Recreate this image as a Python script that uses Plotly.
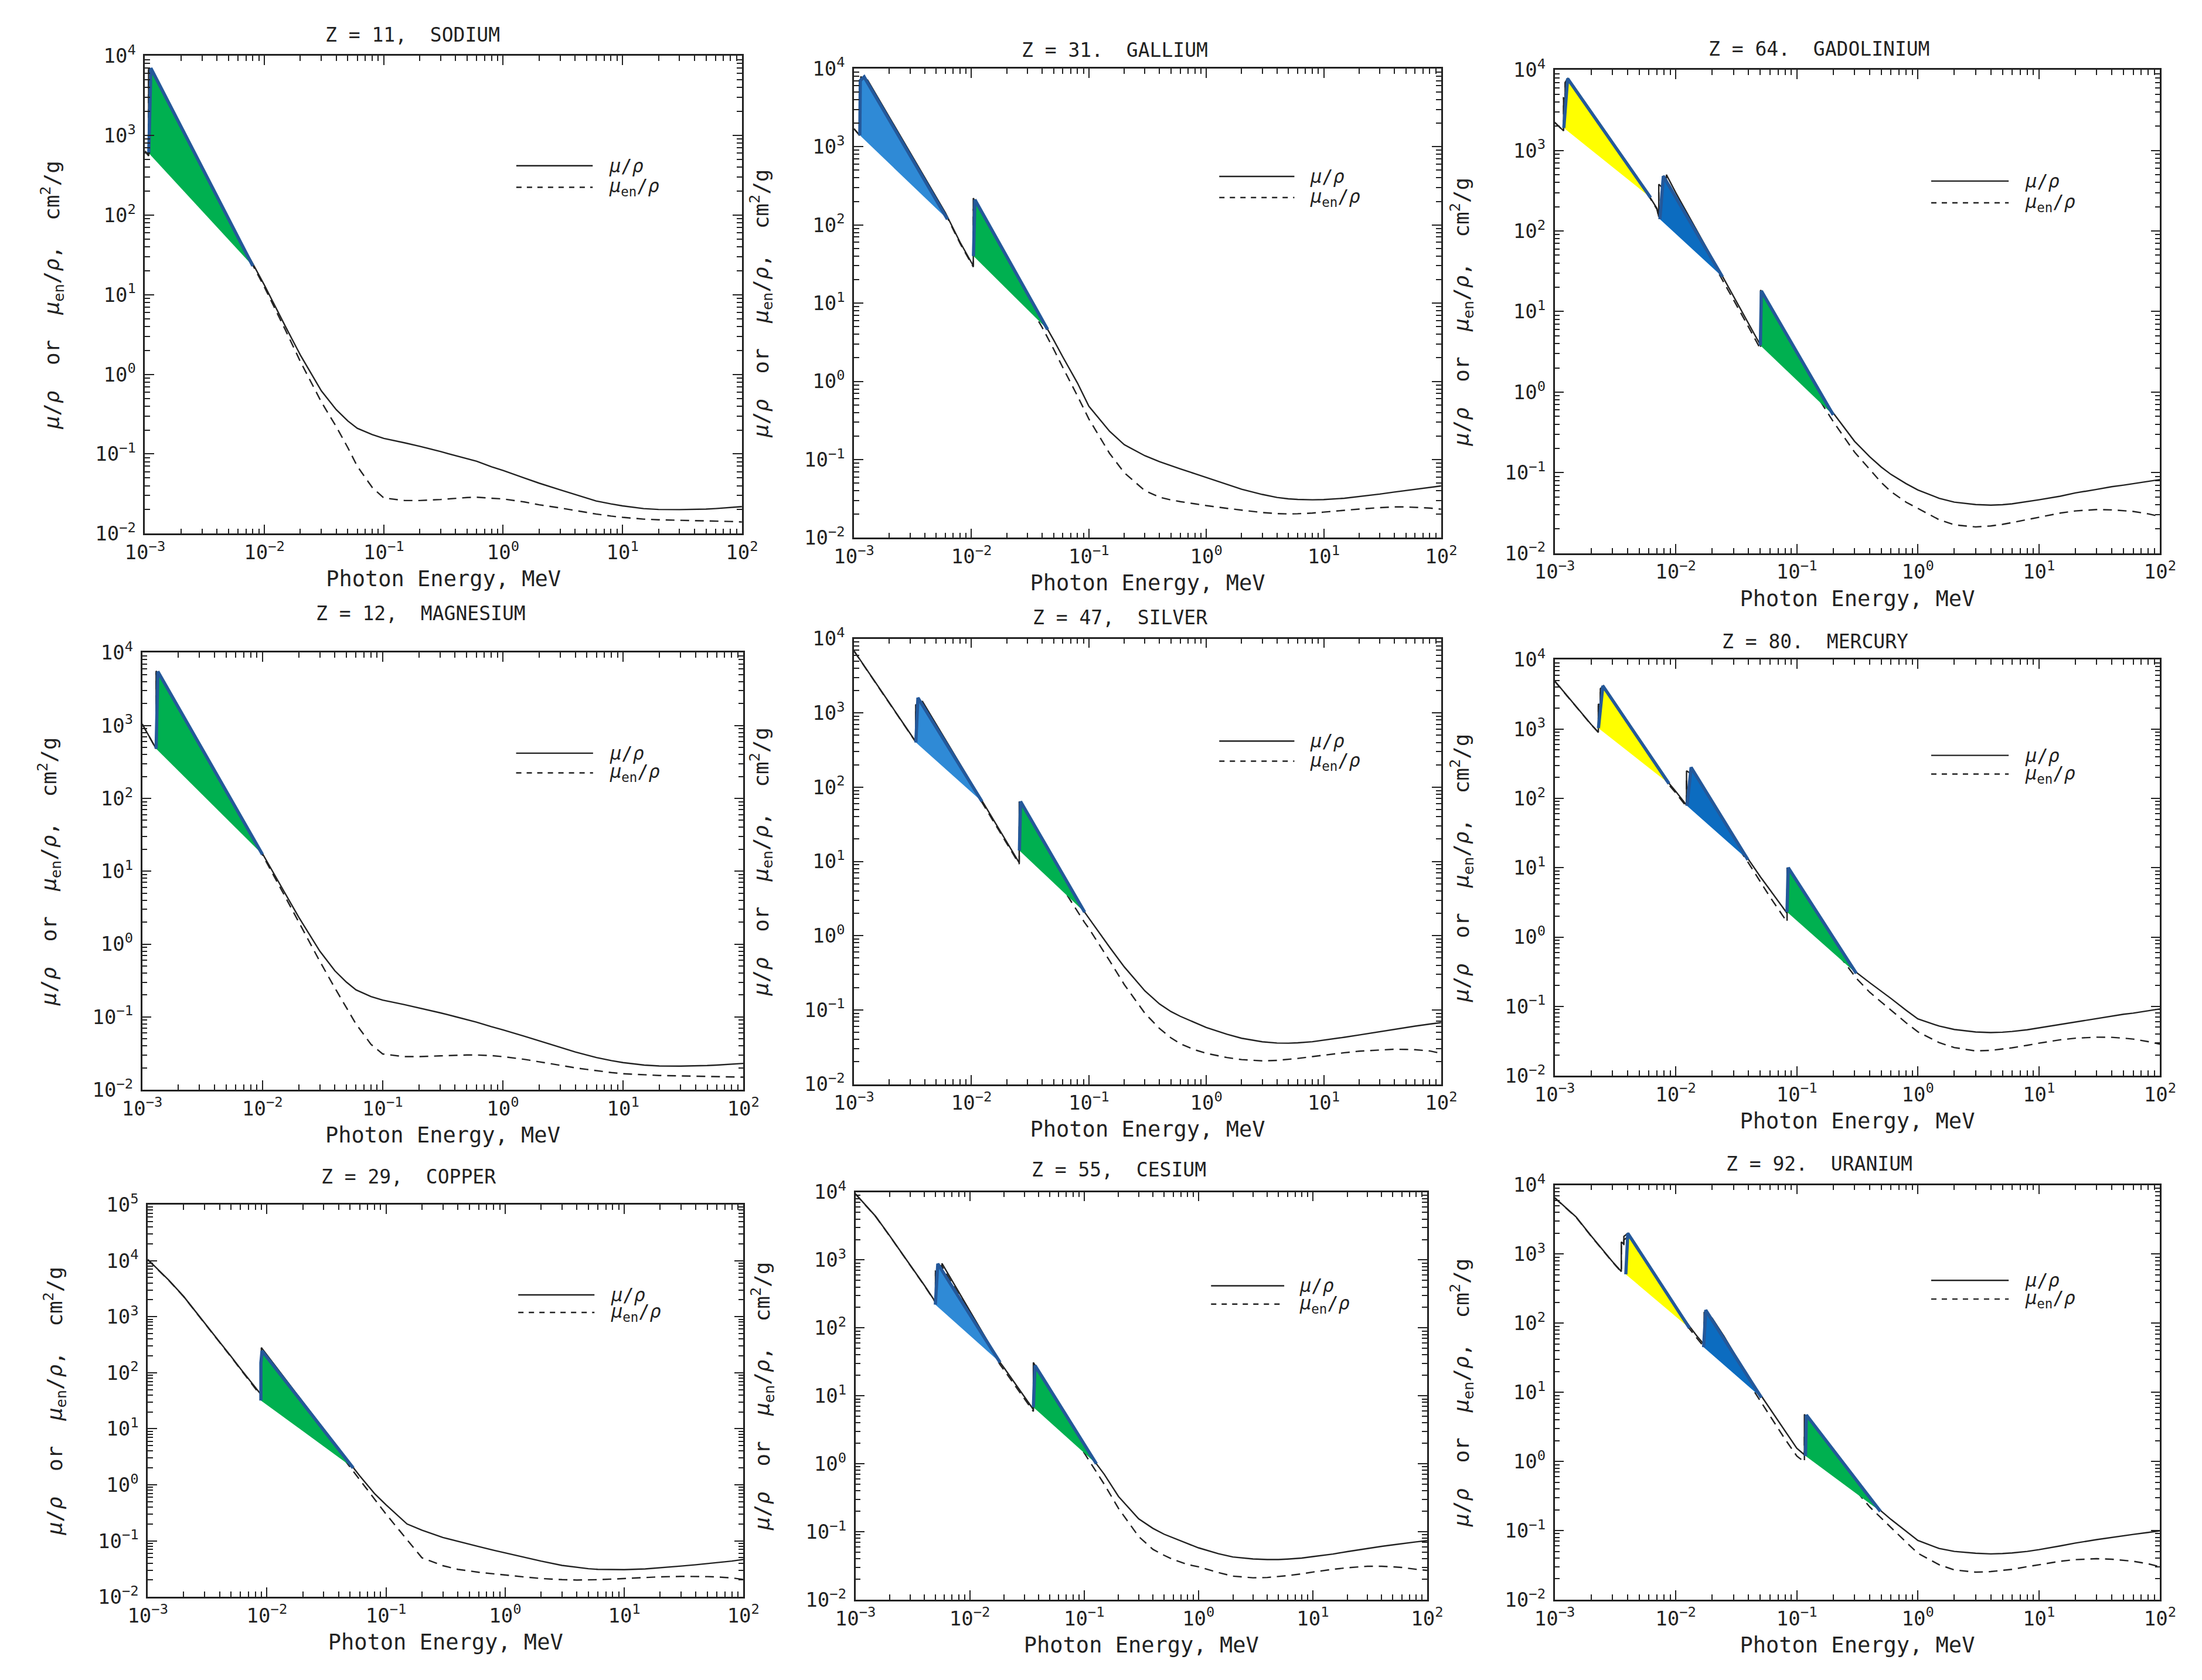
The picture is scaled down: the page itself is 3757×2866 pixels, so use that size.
import plotly.graph_objects as go

## data: photon energy (MeV), mu/rho and mu_en/rho (cm2/g)

# Z = 11, sodium
NA_E = [1.0e-3, 1.072e-3, 1.072e-3, 1.5e-3, 2e-3, 3e-3, 4e-3, 5e-3, 6e-3, 8e-3,
        1e-2, 1.5e-2, 2e-2, 3e-2, 4e-2, 5e-2, 6e-2, 8e-2,
        0.1, 0.15, 0.2, 0.3, 0.4, 0.5, 0.6, 0.8,
        1, 1.5, 2, 3, 4, 5, 6, 8,
        10, 15, 20, 30, 40, 50, 60, 80, 100]
NA_MU = [640, 560, 6900, 2660, 1180, 375, 166, 88, 53, 24.5,
         13.2, 4.0, 1.75, 0.62, 0.36, 0.26, 0.21, 0.175,
         0.157, 0.138, 0.125, 0.107, 0.095, 0.087, 0.081, 0.069,
         0.062, 0.05, 0.043, 0.0355, 0.031, 0.0278, 0.0257, 0.0236,
         0.0223, 0.0206, 0.0201, 0.02, 0.0201, 0.0203, 0.0206, 0.0212, 0.0218]
NA_MUEN = [635, 555, 6600, 2560, 1145, 366, 162, 86, 51.5, 23.5,
           12.5, 3.6, 1.45, 0.45, 0.22, 0.12, 0.07, 0.038,
           0.028, 0.026, 0.026, 0.0268, 0.0278, 0.0284, 0.0286, 0.028,
           0.0272, 0.025, 0.023, 0.021, 0.0195, 0.0184, 0.0176, 0.0166,
           0.016, 0.0152, 0.0149, 0.0147, 0.0146, 0.0145, 0.0144, 0.0142, 0.014]
NA_K_E = [1.075e-3, 1.12e-3, 8.0e-3]
NA_K_MU = [600, 7000, 23]

# Z = 12, magnesium
MG_E = [1.0e-3, 1.305e-3, 1.305e-3, 1.5e-3, 2e-3, 3e-3, 4e-3, 5e-3, 6e-3, 8e-3,
        1e-2, 1.5e-2, 2e-2, 3e-2, 4e-2, 5e-2, 6e-2, 8e-2,
        0.1, 0.15, 0.2, 0.3, 0.4, 0.5, 0.6, 0.8,
        1, 1.5, 2, 3, 4, 5, 6, 8,
        10, 15, 20, 30, 40, 50, 60, 80, 100]
MG_MU = [1050, 480, 5600, 3750, 1650, 520, 231, 123, 72.5, 32.5,
         17.5, 5.4, 2.35, 0.8, 0.43, 0.3, 0.235, 0.19,
         0.17, 0.148, 0.133, 0.114, 0.101, 0.092, 0.085, 0.0735,
         0.0665, 0.0545, 0.047, 0.0382, 0.033, 0.0299, 0.0277, 0.0251,
         0.0236, 0.0218, 0.0212, 0.0211, 0.0212, 0.0215, 0.0218, 0.0224, 0.023]
MG_MUEN = [1045, 477, 5300, 3580, 1590, 505, 226, 121, 71, 31.5,
           16.8, 4.9, 2.0, 0.58, 0.25, 0.135, 0.08, 0.042,
           0.031, 0.0285, 0.0285, 0.0292, 0.0298, 0.03, 0.03, 0.0294,
           0.0285, 0.0262, 0.0242, 0.0216, 0.02, 0.019, 0.0182, 0.0172,
           0.0166, 0.016, 0.0157, 0.0155, 0.0154, 0.0153, 0.0152, 0.015, 0.0149]
MG_K_E = [1.305e-3, 1.35e-3, 1.0e-2]
MG_K_MU = [480, 5500, 17]

# Z = 29, copper
CU_E = [1.0e-3, 1.5e-3, 2e-3, 3e-3, 4e-3, 5e-3, 6e-3, 8e-3, 8.979e-3, 8.979e-3,
        1e-2, 1.5e-2, 2e-2, 3e-2, 4e-2, 5e-2, 6e-2, 8e-2,
        0.1, 0.15, 0.2, 0.3, 0.4, 0.5, 0.6, 0.8,
        1, 1.5, 2, 3, 4, 5, 6, 8,
        10, 15, 20, 30, 40, 50, 60, 80, 100]
CU_MU = [10500, 4500, 2300, 780, 360, 195, 118, 54, 40, 280,
         207, 67, 30, 9.8, 4.4, 2.4, 1.45, 0.7,
         0.44, 0.2, 0.155, 0.115, 0.098, 0.087, 0.079, 0.068,
         0.061, 0.05, 0.0435, 0.0365, 0.0335, 0.0318, 0.031, 0.0305,
         0.0306, 0.0316, 0.033, 0.0355, 0.0375, 0.0392, 0.0408, 0.0435, 0.0465]
CU_MUEN = [10400, 4450, 2280, 770, 355, 192, 115, 52, 38, 200,
           160, 56, 26, 8.5, 3.8, 2.05, 1.25, 0.55,
           0.3, 0.105, 0.05, 0.036, 0.031, 0.029, 0.0275, 0.0258,
           0.0245, 0.0225, 0.0213, 0.0203, 0.02, 0.0201, 0.0203, 0.0208,
           0.0213, 0.0222, 0.0228, 0.0232, 0.0232, 0.023, 0.0227, 0.0218, 0.0205]
CU_K_E = [8.9e-3, 8.9e-3, 9.1e-3, 5.3e-2]
CU_K_MU = [32, 150, 245, 2.0]

# Z = 31, gallium
GA_E = [1.0e-3, 1.115e-3, 1.115e-3, 1.142e-3, 1.142e-3, 1.298e-3, 1.298e-3, 1.5e-3, 2e-3, 3e-3,
        4e-3, 5e-3, 6e-3, 8e-3, 1.0367e-2, 1.0367e-2, 1.5e-2, 2e-2, 3e-2, 4e-2,
        5e-2, 6e-2, 8e-2, 0.1, 0.15, 0.2, 0.3, 0.4, 0.5, 0.6,
        0.8, 1, 1.5, 2, 3, 4, 5, 6, 8, 10,
        15, 20, 30, 40, 50, 60, 80, 100]
GA_MU = [1700, 1400, 6900, 6700, 7900, 6500, 7200, 4970, 2380, 844,
         404, 228, 143, 60, 30, 220, 83, 38.5, 13.1, 6.1,
         3.4, 2.05, 0.95, 0.48, 0.23, 0.155, 0.112, 0.094, 0.083, 0.076,
         0.066, 0.059, 0.048, 0.0418, 0.0358, 0.0328, 0.0315, 0.0309, 0.0306, 0.0308,
         0.032, 0.0335, 0.0362, 0.0385, 0.0403, 0.0418, 0.0442, 0.046]
GA_MUEN = [1690, 1395, 6700, 6500, 7600, 6300, 6950, 4800, 2310, 820,
           393, 222, 139, 58, 29, 160, 62, 29.5, 10.2, 4.9,
           2.6, 1.5, 0.65, 0.33, 0.12, 0.068, 0.04, 0.033, 0.0305, 0.029,
           0.0272, 0.0258, 0.0238, 0.0226, 0.021, 0.0204, 0.0202, 0.0203, 0.0207, 0.0213,
           0.0225, 0.0233, 0.0243, 0.0248, 0.0248, 0.0246, 0.024, 0.0232]
GA_L_E = [1.12e-3, 1.13e-3, 1.22e-3, 6.25e-3]
GA_L_MU = [1400, 7000, 7800, 118]
GA_K_E = [1.04e-2, 1.07e-2, 4.45e-2]
GA_K_MU = [40, 210, 4.6]

# Z = 47, silver
AG_E = [1.0e-3, 2e-3, 3e-3, 3.351e-3, 3.351e-3, 3.524e-3, 3.524e-3, 3.806e-3, 3.806e-3, 5e-3,
        6e-3, 8e-3, 1e-2, 1.23e-2, 1.5e-2, 2e-2, 2.551e-2, 2.551e-2, 3e-2, 4e-2,
        5e-2, 6e-2, 8e-2, 9.2e-2, 0.1, 0.15, 0.2, 0.3, 0.4, 0.5,
        0.6, 0.8, 1, 1.5, 2, 3, 4, 5, 6, 8,
        10, 15, 20, 30, 40, 50, 60, 80, 100]
AG_MU = [6840, 1360, 530, 410, 1300, 1200, 1550, 1350, 1450, 705,
         437, 205, 113, 66, 39, 18.3, 9.6, 64, 41.5, 19.2,
         10.6, 6.45, 3.0, 2.07, 1.72, 0.7, 0.38, 0.18, 0.12, 0.095,
         0.082, 0.067, 0.058, 0.047, 0.0415, 0.0372, 0.0358, 0.0356, 0.036, 0.0373,
         0.039, 0.0428, 0.046, 0.051, 0.055, 0.058, 0.0605, 0.0645, 0.0675]
AG_MUEN = [6800, 1350, 525, 405, 1200, 1110, 1420, 1240, 1330, 655,
           407, 192, 106, 62, 37, 17.4, 9.2, 35, 24, 11.8,
           6.8, 4.3, 2.1, 1.5, 1.25, 0.46, 0.22, 0.09, 0.056, 0.042,
           0.035, 0.029, 0.026, 0.0228, 0.0214, 0.0206, 0.0209, 0.0215, 0.0222, 0.0235,
           0.0246, 0.0265, 0.0278, 0.029, 0.0295, 0.0294, 0.0291, 0.028, 0.026]
AG_L_E = [3.36e-3, 3.5e-3, 1.23e-2]
AG_L_MU = [400, 1600, 64]
AG_K_E = [2.56e-2, 2.62e-2, 9.2e-2]
AG_K_MU = [14, 64, 2.07]

# Z = 55, cesium
CS_E = [1.0e-3, 1.5e-3, 2e-3, 3e-3, 4e-3, 5.012e-3, 5.012e-3, 5.359e-3, 5.359e-3, 5.714e-3,
        5.714e-3, 8e-3, 1e-2, 1.5e-2, 1.84e-2, 2e-2, 3e-2, 3.598e-2, 3.598e-2, 5e-2,
        6e-2, 8e-2, 0.1, 0.128, 0.15, 0.2, 0.3, 0.4, 0.5, 0.6,
        0.8, 1, 1.5, 2, 3, 4, 5, 6, 8, 10,
        15, 20, 30, 40, 50, 60, 80, 100]
CS_MU = [9400, 4400, 2250, 860, 425, 240, 680, 640, 850, 800,
         890, 339, 178, 55.7, 31, 25.7, 9.7, 6.3, 31, 12.7,
         7.8, 3.6, 1.96, 1.0, 0.7, 0.33, 0.155, 0.112, 0.092, 0.081,
         0.067, 0.058, 0.0475, 0.0425, 0.0398, 0.039, 0.039, 0.0396, 0.041, 0.043,
         0.047, 0.051, 0.057, 0.061, 0.064, 0.067, 0.071, 0.074]
CS_MUEN = [9350, 4370, 2235, 853, 421, 237, 620, 585, 770, 725,
           805, 310, 163, 51.5, 28.7, 23.8, 9.0, 5.9, 16, 7.5,
           4.9, 2.5, 1.45, 0.77, 0.5, 0.22, 0.085, 0.055, 0.045, 0.039,
           0.033, 0.0305, 0.025, 0.0222, 0.021, 0.0212, 0.0218, 0.0226, 0.024, 0.0255,
           0.028, 0.0295, 0.031, 0.031, 0.0305, 0.0298, 0.028, 0.027]
CS_L_E = [5.0e-3, 5.25e-3, 1.84e-2]
CS_L_MU = [220, 880, 31]
CS_K_E = [3.6e-2, 3.72e-2, 0.128]
CS_K_MU = [6.8, 28, 1.0]

# Z = 64, gadolinium
GD_E = [1.0e-3, 1.185e-3, 1.185e-3, 1.22e-3, 1.22e-3, 1.28e-3, 1.5e-3, 2e-3, 3e-3, 4e-3,
        5e-3, 6.2e-3, 7.0e-3, 7.243e-3, 7.243e-3, 7.93e-3, 7.93e-3, 8.376e-3, 8.376e-3, 1e-2,
        1.5e-2, 2e-2, 2.43e-2, 3e-2, 4e-2, 5.024e-2, 5.024e-2, 6e-2, 8e-2, 0.1,
        0.15, 0.2, 0.3, 0.4, 0.5, 0.6, 0.8, 1, 1.5, 2,
        3, 4, 5, 6, 8, 10, 15, 20, 30, 40,
        50, 60, 80, 100]
GD_MU = [2240, 1750, 4500, 4400, 7000, 7800, 5600, 2970, 1240, 665,
         413, 255, 190, 150, 380, 335, 485, 450, 500, 300,
         99, 46, 27.5, 15.4, 7.0, 3.8, 18.5, 11.4, 5.4, 3.0,
         1.05, 0.55, 0.245, 0.158, 0.117, 0.095, 0.073, 0.061, 0.048, 0.043,
         0.0402, 0.0395, 0.04, 0.041, 0.0435, 0.046, 0.051, 0.056, 0.062, 0.067,
         0.070, 0.073, 0.078, 0.082]
GD_MUEN = [2230, 1740, 4400, 4300, 6800, 7500, 5400, 2880, 1210, 650,
           404, 250, 186, 147, 330, 295, 420, 395, 440, 268,
           90, 42, 25, 14.0, 6.4, 3.4, 10.5, 7.0, 3.6, 2.15,
           0.85, 0.43, 0.18, 0.11, 0.075, 0.058, 0.043, 0.036, 0.026, 0.0225,
           0.0212, 0.0218, 0.0228, 0.024, 0.0262, 0.028, 0.0315, 0.0335, 0.0348, 0.0345,
           0.0338, 0.033, 0.0308, 0.0285]
GD_M_E = [1.19e-3, 1.28e-3, 6.2e-3]
GD_M_MU = [1900, 7800, 260]
GD_L_E = [7.4e-3, 7.9e-3, 2.43e-2]
GD_L_MU = [140, 480, 27]
GD_K_E = [5.0e-2, 5.1e-2, 0.2]
GD_K_MU = [3.8, 18, 0.52]

# Z = 80, mercury
HG_E = [1.0e-3, 1.5e-3, 2e-3, 2.295e-3, 2.295e-3, 2.385e-3, 2.385e-3, 2.53e-3, 3e-3, 4e-3,
        5e-3, 6e-3, 8e-3, 8.8e-3, 1e-2, 1.228e-2, 1.228e-2, 1.5e-2, 2e-2, 3e-2,
        3.95e-2, 5e-2, 6e-2, 8.31e-2, 8.31e-2, 0.1, 0.15, 0.2, 0.313, 0.4,
        0.5, 0.6, 0.8, 1, 1.5, 2, 3, 4, 5, 6,
        8, 10, 15, 20, 30, 40, 50, 60, 80, 100]
HG_MU = [4940, 2125, 1166, 900, 2300, 2200, 3800, 4200, 2700, 1277,
         715, 445, 211, 165, 126, 80, 250, 200, 88, 28,
         13.5, 7.4, 4.8, 2.2, 10, 6.2, 2.1, 0.99, 0.306, 0.22,
         0.165, 0.13, 0.088, 0.066, 0.052, 0.0465, 0.0428, 0.042, 0.0425, 0.0435,
         0.046, 0.049, 0.055, 0.06, 0.067, 0.073, 0.077, 0.08, 0.086, 0.092]
HG_MUEN = [4900, 2110, 1158, 894, 2150, 2060, 3500, 3870, 2500, 1190,
           670, 418, 199, 156, 120, 76, 200, 165, 74, 24.5,
           12, 6.2, 3.8, 1.65, 5.0, 3.5, 1.35, 0.7, 0.25, 0.16,
           0.115, 0.088, 0.058, 0.043, 0.03, 0.0255, 0.0228, 0.0232, 0.0242, 0.0253,
           0.0275, 0.0295, 0.033, 0.0348, 0.036, 0.0358, 0.0348, 0.0338, 0.031, 0.0285]
HG_M_E = [2.3e-3, 2.5e-3, 8.8e-3]
HG_M_MU = [1030, 4200, 163]
HG_L_E = [1.24e-2, 1.34e-2, 3.95e-2]
HG_L_MU = [78, 280, 13]
HG_K_E = [8.3e-2, 8.5e-2, 0.31]
HG_K_MU = [2.3, 10, 0.3]

# Z = 92, uranium
U_E = [1.0e-3, 1.5e-3, 2e-3, 3e-3, 3.552e-3, 3.552e-3, 3.728e-3, 3.728e-3, 4.02e-3, 5e-3,
       6e-3, 8e-3, 1e-2, 1.3e-2, 1.5e-2, 1.717e-2, 1.717e-2, 2e-2, 2.5e-2, 3e-2,
       4e-2, 5e-2, 6e-2, 8e-2, 0.1, 0.1156, 0.1156, 0.15, 0.2, 0.3,
       0.4, 0.5, 0.6, 0.8, 1, 1.5, 2, 3, 4, 5,
       6, 8, 10, 15, 20, 30, 40, 50, 60, 80, 100]
U_MU = [6560, 3470, 1840, 780, 560, 1500, 1400, 1800, 2000, 1112,
        680, 314, 172, 90, 65, 49, 145, 118, 65, 38,
        16.8, 9.3, 5.8, 2.7, 1.55, 1.25, 4.8, 2.6, 1.35, 0.55,
        0.3, 0.19, 0.145, 0.097, 0.072, 0.055, 0.05, 0.047, 0.046, 0.0465,
        0.0475, 0.05, 0.053, 0.06, 0.066, 0.074, 0.08, 0.084, 0.088, 0.094, 0.099]
U_MUEN = [6500, 3440, 1820, 770, 553, 1350, 1260, 1600, 1780, 1000,
          615, 287, 158, 83, 60, 45, 118, 97, 54, 31.5,
          13.8, 7.5, 4.6, 2.1, 1.2, 0.98, 2.4, 1.6, 0.9, 0.4,
          0.22, 0.15, 0.11, 0.068, 0.047, 0.032, 0.027, 0.025, 0.0255, 0.0265,
          0.0275, 0.03, 0.032, 0.036, 0.038, 0.0392, 0.0385, 0.0372, 0.036, 0.033, 0.030]
U_M_E = [3.87e-3, 4.02e-3, 1.3e-2]
U_M_MU = [510, 2000, 85]
U_L_E = [1.7e-2, 1.77e-2, 5.1e-2]
U_L_MU = [45, 155, 8.4]
U_K_E = [0.118, 0.12, 0.49]
U_K_MU = [1.2, 4.7, 0.19]

# tick labels
X_TICKS = [1e-3, 1e-2, 1e-1, 1e0, 1e1, 1e2]
X_TICKTEXT = ["10<sup>\u22123</sup>", "10<sup>\u22122</sup>", "10<sup>\u22121</sup>",
              "10<sup>0</sup>", "10<sup>1</sup>", "10<sup>2</sup>"]
Y_TICKS = [1e-2, 1e-1, 1e0, 1e1, 1e2, 1e3, 1e4, 1e5]
Y_TICKTEXT = ["10<sup>\u22122</sup>", "10<sup>\u22121</sup>", "10<sup>0</sup>", "10<sup>1</sup>",
              "10<sup>2</sup>", "10<sup>3</sup>", "10<sup>4</sup>", "10<sup>5</sup>"]


## style
FONT = "DejaVu Sans Mono"
INK = "#222222"
GREEN = "#00B050"
BLUE_LIGHT = "#2F8AD6"
BLUE_DARK = "#0C6CC0"
YELLOW = "#FFFF00"
OUTLINE = "#24589A"

W, H = 3757, 2866
REF_W, REF_H = 1568, 1196   # frame positions below are measured on this scale
# the page comes out slightly shrunk and pushed right/down, undo that here
SHIFT_X, SHIFT_Y = 14.5, 10.5
SCALE_X, SCALE_Y = 0.9854, 0.9873


def fx(px):
    return (px - SHIFT_X) / SCALE_X / REF_W


def fy(py):
    return 1 - (py - SHIFT_Y) / SCALE_Y / REF_H


# (title, E, mu, muen, [(edge E, edge mu, colour)], y top decade,
#  frame L, R, T, B, title x, title y)
panels = [
    ("Z = 11,  SODIUM", NA_E, NA_MU, NA_MUEN, [(NA_K_E, NA_K_MU, GREEN)], 4,
     100, 526, 37, 378, 291, 22),
    ("Z = 31.  GALLIUM", GA_E, GA_MU, GA_MUEN,
     [(GA_L_E, GA_L_MU, BLUE_LIGHT), (GA_K_E, GA_K_MU, GREEN)], 4,
     606, 1025, 46, 381, 792, 33),
    ("Z = 64.  GADOLINIUM", GD_E, GD_MU, GD_MUEN,
     [(GD_M_E, GD_M_MU, YELLOW), (GD_L_E, GD_L_MU, BLUE_DARK), (GD_K_E, GD_K_MU, GREEN)], 4,
     1106, 1538, 47, 392, 1295, 32),
    ("Z = 12,  MAGNESIUM", MG_E, MG_MU, MG_MUEN, [(MG_K_E, MG_K_MU, GREEN)], 4,
     98, 527, 463, 775, 297, 435),
    ("Z = 47,  SILVER", AG_E, AG_MU, AG_MUEN,
     [(AG_L_E, AG_L_MU, BLUE_LIGHT), (AG_K_E, AG_K_MU, GREEN)], 4,
     606, 1025, 453, 771, 796, 438),
    ("Z = 80.  MERCURY", HG_E, HG_MU, HG_MUEN,
     [(HG_M_E, HG_M_MU, YELLOW), (HG_L_E, HG_L_MU, BLUE_DARK), (HG_K_E, HG_K_MU, GREEN)], 4,
     1106, 1538, 468, 765, 1292, 455),
    ("Z = 29,  COPPER", CU_E, CU_MU, CU_MUEN, [(CU_K_E, CU_K_MU, GREEN)], 5,
     102, 527, 857, 1137, 288, 837),
    ("Z = 55,  CESIUM", CS_E, CS_MU, CS_MUEN,
     [(CS_L_E, CS_L_MU, BLUE_LIGHT), (CS_K_E, CS_K_MU, GREEN)], 4,
     607, 1015, 848, 1139, 795, 832),
    ("Z = 92.  URANIUM", U_E, U_MU, U_MUEN,
     [(U_M_E, U_M_MU, YELLOW), (U_L_E, U_L_MU, BLUE_DARK), (U_K_E, U_K_MU, GREEN)], 4,
     1106, 1538, 843, 1139, 1295, 828),
]

# minor tick positions, 2..9 in every decade
X_MINOR = [m * 10.0 ** d for d in range(-3, 2) for m in range(2, 10)]
Y_MINOR = [m * 10.0 ** d for d in range(-2, 5) for m in range(2, 10)]

Y_TITLE = ("<i>\u03bc</i>/<i>\u03c1</i>  or  <i>\u03bc</i><sub>en</sub>/<i>\u03c1</i>,  "
           "cm<sup>2</sup>/g")

fig = go.Figure()
annotations = []
shapes = []

axis_common = dict(
    type="log",
    showline=True, linecolor=INK, linewidth=2.5, mirror="allticks",
    ticks="inside", ticklen=16, tickwidth=2, tickcolor=INK,
    showgrid=False, zeroline=False,
    tickfont=dict(family=FONT, size=34, color=INK),
)

for i, (title, e, mu, muen, edges, ytop, L, R, T, B, tx, ty) in enumerate(panels, start=1):
    assert len(e) == len(mu) == len(muen), title
    sfx = "" if i == 1 else str(i)
    xa, ya = "x" + sfx, "y" + sfx

    fig.add_trace(go.Scatter(x=e, y=mu, mode="lines", xaxis=xa, yaxis=ya,
                             line=dict(color=INK, width=2.4), showlegend=False))
    fig.add_trace(go.Scatter(x=e, y=muen, mode="lines", xaxis=xa, yaxis=ya,
                             line=dict(color=INK, width=2.4, dash="15px,10px"), showlegend=False))
    for ee, mm, colour in edges:
        fig.add_trace(go.Scatter(x=ee, y=mm, mode="lines", fill="toself", fillcolor=colour,
                                 xaxis=xa, yaxis=ya, line=dict(color=OUTLINE, width=5.5),
                                 showlegend=False))

    fig.layout["xaxis" + sfx] = dict(
        axis_common, domain=[fx(L), fx(R)], anchor=ya, range=[-3, 2],
        tickvals=X_TICKS, ticktext=X_TICKTEXT,
        minor=dict(tickvals=X_MINOR, ticks="inside", ticklen=9, tickwidth=1.6, tickcolor=INK),
        title=dict(text="Photon Energy, MeV", font=dict(family=FONT, size=37, color=INK), standoff=14),
    )
    fig.layout["yaxis" + sfx] = dict(
        axis_common, domain=[fy(B), fy(T)], anchor=xa, range=[-2, ytop],
        tickvals=Y_TICKS, ticktext=Y_TICKTEXT, ticklabelstandoff=6,
        minor=dict(tickvals=Y_MINOR, ticks="inside", ticklen=9, tickwidth=1.6, tickcolor=INK),
        title=dict(text=Y_TITLE, font=dict(family=FONT, size=36, color=INK), standoff=50),
    )

    # panel title
    annotations.append(dict(text=title, x=fx(tx), y=fy(ty),
                            xref="paper", yref="paper", showarrow=False,
                            xanchor="center", yanchor="middle",
                            font=dict(family=FONT, size=33, color=INK)))

    # legend, drawn by hand so the sample lines are as long as in the original
    for yy, dash, label in [(0.77, "solid", "<i>\u03bc</i>/<i>\u03c1</i>"),
                            (0.725, "dash", "<i>\u03bc</i><sub>en</sub>/<i>\u03c1</i>")]:
        shapes.append(dict(type="line", xref=xa + " domain", yref=ya + " domain",
                           x0=0.622, x1=0.75, y0=yy, y1=yy,
                           line=dict(color=INK, width=2.4, dash=dash)))
        annotations.append(dict(text=label, xref=xa + " domain", yref=ya + " domain",
                                x=0.775, y=yy, xanchor="left", yanchor="middle", showarrow=False,
                                font=dict(family=FONT, size=32, color=INK)))

fig.update_layout(
    width=W, height=H,
    margin=dict(l=0, r=0, t=0, b=0),
    paper_bgcolor="white", plot_bgcolor="white",
    annotations=annotations, shapes=shapes,
    showlegend=False,
)

fig.write_html("out.html")
